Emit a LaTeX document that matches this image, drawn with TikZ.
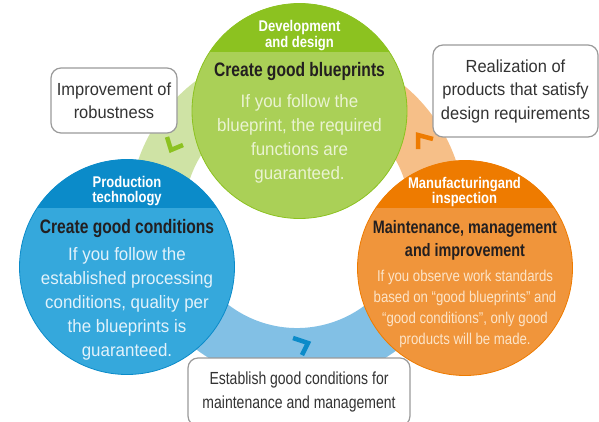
\documentclass[tikz,border=0pt]{standalone}
\usepackage{fontspec}
\setmainfont{Liberation Sans}
\newfontfamily\headfont{Liberation Sans}[FakeStretch=0.84]
\newfontfamily\narrowfont{Liberation Sans}[FakeStretch=0.80]
\newfontfamily\bodyfont{Liberation Sans}[FakeStretch=0.94]
\definecolor{devfill}{HTML}{AAD057}
\definecolor{devband}{HTML}{8CC220}
\definecolor{devring}{HTML}{CFE3A5}
\definecolor{devtext}{HTML}{EAF3D2}
\definecolor{prodfill}{HTML}{35A8DC}
\definecolor{prodband}{HTML}{0B8BC9}
\definecolor{prodring}{HTML}{82C0E5}
\definecolor{prodtext}{HTML}{E2F2FB}
\definecolor{manufill}{HTML}{F0953B}
\definecolor{manuband}{HTML}{EE7B00}
\definecolor{manuring}{HTML}{F6BF88}
\definecolor{manutext}{HTML}{FCE4C8}
\definecolor{boxline}{HTML}{9A9A9A}
\definecolor{boxtext}{HTML}{333333}
\definecolor{titletext}{HTML}{231F20}

\tikzset{
  ring/.style={line width=55pt},
  chev/.style={line width=4.5pt, line join=miter},
  disc/.style={circle, minimum size=215pt, inner sep=0pt},
  head/.style={text=white, align=center, inner sep=0pt,
    font=\headfont\bfseries\fontsize{15.5}{15.5}\selectfont},
  title/.style={text=titletext, align=center, inner sep=0pt,
    font=\narrowfont\bfseries\fontsize{19.5}{23}\selectfont},
  body/.style={align=center, inner sep=0pt,
    font=\bodyfont\fontsize{18}{24}\selectfont},
  note/.style={draw=boxline, line width=1.2pt, fill=white, rounded corners=10pt,
    align=center, inner sep=0pt, text=boxtext,
    font=\bodyfont\fontsize{17.5}{23.5}\selectfont}
}

\begin{document}
\begin{tikzpicture}[x=1pt,y=-1pt]
\useasboundingbox (0,0) rectangle (599,421);
\coordinate (mid) at (297,215);
\draw[ring, devring] (mid) ++(-90:140.5) arc[start angle=-90, end angle=-197, radius=140.5];
\draw[ring, manuring] (mid) ++(17.5:140.5) arc[start angle=17.5, end angle=-90, radius=140.5];
\draw[ring, prodring] (mid) ++(-197:140.5) arc[start angle=-197, end angle=-342.5, radius=140.5];
\draw[chev, devband] (167,137) -- (171,150) -- (183,145);
\draw[chev, manuband] (433,139) -- (418,135) -- (418,149);
\draw[chev, prodband] (293,338) -- (308,343) -- (302,355);

\node[disc, fill=devfill] (dev) at (299.5,111) {};
\node[disc, fill=prodfill] (prod) at (127,267) {};
\node[disc, fill=manufill] (manu) at (465,268) {};
\begin{scope}
\clip (dev.center) circle (107.5);
\fill[devband] (180,0) rectangle (420,52);
\end{scope}
\begin{scope}
\clip (prod.center) circle (107.5);
\fill[prodband] (10,150) rectangle (250,208);
\end{scope}
\begin{scope}
\clip (manu.center) circle (107.5);
\fill[manuband] (350,150) rectangle (590,208);
\end{scope}
\draw[devband, line width=0.8pt] (dev.center) circle (107.5);
\draw[prodband, line width=0.8pt] (prod.center) circle (107.5);
\draw[manuband, line width=0.8pt] (manu.center) circle (107.5);

\node[head] (devhead) at (299.5,35.5) {Development\\and design};
\node[title] (devtitle) at (299.5,71.8) {Create good blueprints};
\node[body, text=devtext] (devbody) at (299.5,138.4)
  {If you follow the\\blueprint, the required\\functions are\\guaranteed.};

\node[head] (prodhead) at (127,191) {Production\\technology};
\node[title] (prodtitle) at (127,228.8) {Create good conditions};
\node[body, text=prodtext] (prodbody) at (127,304)
  {If you follow the\\established processing\\conditions, quality per\\the blueprints is\\guaranteed.};

\node[head] (manuhead) at (464.5,192) {Manufacturingand\\inspection};
\node[title, font=\narrowfont\bfseries\fontsize{18}{23}\selectfont] (manutitle) at (465,240.8)
  {Maintenance, management\\and improvement};
\node[body, text=manutext, font=\headfont\fontsize{15.7}{21}\selectfont] (manubody) at (465,309.4)
  {If you observe work standards\\based on “good blueprints” and\\“good conditions”, only good\\products will be made.};

\node[note, minimum width=126pt, minimum height=65pt] (robust) at (114,100.5)
  {Improvement of\\robustness};
\node[note, minimum width=165pt, minimum height=92pt] (realize) at (515.5,91)
  {Realization of\\products that satisfy\\design requirements};
\node[note, minimum width=222pt, minimum height=68pt,
  font=\narrowfont\fontsize{17.5}{23.5}\selectfont] (establish) at (299,392)
  {Establish good conditions for\\maintenance and management};
\end{tikzpicture}
\end{document}
